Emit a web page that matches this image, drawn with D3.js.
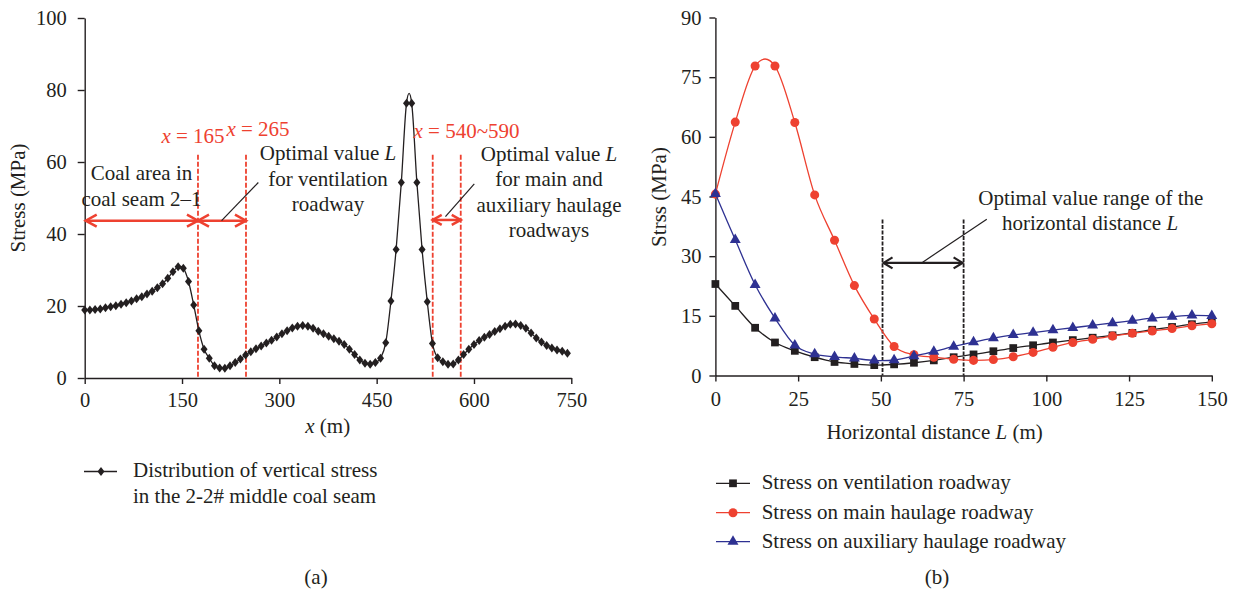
<!DOCTYPE html>
<html><head><meta charset="utf-8">
<script src="https://cdn.jsdelivr.net/npm/d3@7"></script>
<style>
html,body{margin:0;padding:0;background:#fff;}
svg{display:block;font-family:"Liberation Serif","Times New Roman",serif;}
</style></head><body>
<svg id="chart" width="1236" height="597"></svg>
<script>
// ---------- Panel (a) data ----------
const xPos = [0,8,16,24,32,40,48,56,64,72,80,88,96,104,112,120,128,136,144,152,160,168,176,184,192,200,208,216,224,232,240,248,256,264,272,280,288,296,304,312,320,328,336,344,352,360,368,376,384,392,400,408,416,424,432,440,448,456,464,472,480,488,496,504,512,520,528,536,544,552,560,568,576,584,592,600,608,616,624,632,640,648,656,664,672,680,688,696,704,712,720,728,736,744];
const verticalStress = [18.9,18.9,19.0,19.2,19.5,19.8,20.1,20.5,20.9,21.4,22.0,22.6,23.3,24.1,25.1,26.2,27.7,29.5,30.9,30.5,26.8,20.3,13.1,8.0,5.5,3.4,2.8,2.7,3.4,4.3,5.3,6.4,7.3,8.1,8.9,9.7,10.5,11.4,12.3,13.1,13.9,14.4,14.6,14.4,13.8,13.0,12.3,11.6,10.9,10.2,9.3,8.0,6.5,5.0,4.1,3.8,4.3,5.5,9.8,21.4,35.7,54.3,76.3,76.3,54.3,35.7,21.2,9.6,5.6,4.5,3.8,3.9,5.0,6.5,8.0,9.3,10.4,11.3,12.1,12.9,13.7,14.4,14.9,15.0,14.6,13.8,12.5,11.1,10.0,9.0,8.3,7.8,7.4,6.9];
const xTicksA = [0,150,300,450,600,750];
const yTicksA = [0,20,40,60,80,100];
const redLinesA = [174.6, 248.6, 536.4, 579.6];

// ---------- Panel (b) data ----------
const distL = [0,6,12,18,24,30,36,42,48,54,60,66,72,78,84,90,96,102,108,114,120,126,132,138,144,150];
const ventilation = [23.0,17.5,12.0,8.3,6.2,4.6,3.4,2.9,2.6,2.8,3.2,3.8,4.6,5.3,6.1,6.9,7.6,8.3,8.9,9.5,10.1,10.7,11.5,12.2,12.9,13.5];
const mainHaulage = [45.6,63.7,77.8,77.8,63.6,45.4,34.0,22.6,14.2,7.3,5.2,4.6,4.1,3.8,4.0,4.7,5.8,7.1,8.3,9.1,9.9,10.6,11.2,11.8,12.5,13.0];
const auxHaulage = [45.7,34.1,22.8,14.4,7.6,5.4,4.7,4.3,3.8,3.9,4.9,6.0,7.3,8.4,9.4,10.2,10.8,11.4,12.0,12.6,13.2,13.8,14.4,14.8,15.1,15.0];
const xTicksB = [0,25,50,75,100,125,150];
const yTicksB = [0,15,30,45,60,75,90];
const rangeB = [50.5, 75];

const INK = "#231f20", RED = "#ee4130", BLUE = "#2e3192";
const FONT = "'Liberation Serif','Times New Roman',serif";
const FS = 21;
const svg = d3.select("#chart");

const xA = d3.scaleLinear().domain([0,750]).range([84.7,571.3]);
const yA = d3.scaleLinear().domain([0,100]).range([378,18]);
const xB = d3.scaleLinear().domain([0,150]).range([715.4,1211.8]);
const yB = d3.scaleLinear().domain([0,90]).range([375.5,17.5]);

function styleAxis(g){
  g.select(".domain").attr("stroke",INK).attr("stroke-width",1.4);
  g.selectAll(".tick line").attr("stroke",INK).attr("stroke-width",1.4);
  g.selectAll(".tick text").attr("fill",INK).style("font-size","20.5px").style("font-family",FONT);
}
function txt(x,y,anchor,size,fill){
  return svg.append("text").attr("x",x).attr("y",y).attr("text-anchor",anchor)
    .style("font-size",size+"px").style("font-family",FONT).attr("fill",fill||INK);
}
function chevron(tx,ty,dir,L,h,color,sw){
  svg.append("path").attr("d",`M${tx-dir*L},${ty-h}L${tx},${ty}L${tx-dir*L},${ty+h}`)
    .attr("fill","none").attr("stroke",color).attr("stroke-width",sw).attr("stroke-linejoin","miter");
}
function dblArrow(x1,x2,y,color,sw,L,h){
  svg.append("line").attr("x1",x1).attr("x2",x2).attr("y1",y).attr("y2",y).attr("stroke",color).attr("stroke-width",sw);
  chevron(x1,y,-1,L,h,color,sw); chevron(x2,y,1,L,h,color,sw);
}

// ================= Panel (a) =================
svg.append("g").attr("transform",`translate(0,${yA(0)})`)
  .call(d3.axisBottom(xA).tickValues(xTicksA).tickSize(6).tickSizeOuter(0).tickPadding(8)).call(styleAxis);
svg.append("g").attr("transform",`translate(${xA(0)},0)`)
  .call(d3.axisLeft(yA).tickValues(yTicksA).tickSize(7).tickSizeOuter(0).tickPadding(11)).call(styleAxis);

redLinesA.forEach(v=>{
  svg.append("line").attr("x1",xA(v)).attr("x2",xA(v)).attr("y1",yA(62)).attr("y2",yA(0))
    .attr("stroke",RED).attr("stroke-width",1.8).attr("stroke-dasharray","5,2");
});
dblArrow(xA(0)+1,xA(redLinesA[0]),yA(43.7),RED,2.5,11,6);
dblArrow(xA(redLinesA[0]),xA(redLinesA[1]),yA(43.7),RED,2.5,11,6);
dblArrow(xA(redLinesA[2]),xA(redLinesA[3]),yA(43.9),RED,2.5,9,5);
svg.append("line").attr("x1",xA(211)).attr("y1",yA(43.7)).attr("x2",xA(267.6)).attr("y2",yA(54.3)).attr("stroke",INK).attr("stroke-width",1.2);
svg.append("line").attr("x1",xA(556)).attr("y1",yA(44.8)).attr("x2",xA(600.5)).attr("y2",yA(53.9)).attr("stroke",INK).attr("stroke-width",1.2);

const lineA = d3.line().x((d,i)=>xA(xPos[i])).y(d=>yA(d)).curve(d3.curveCardinal.tension(0));
svg.append("path").datum(verticalStress).attr("d",lineA).attr("fill","none").attr("stroke",INK).attr("stroke-width",1.3);
const DIAM = "M0,-4.5L3.5,0L0,4.5L-3.5,0Z";
svg.append("g").selectAll("path").data(verticalStress).join("path")
  .attr("d",DIAM)
  .attr("transform",(d,i)=>`translate(${xA(xPos[i])},${yA(d)})`).attr("fill",INK);

let t;
t = txt(193,143,"middle",FS,RED); t.append("tspan").style("font-style","italic").text("x"); t.append("tspan").text(" = 165");
t = txt(258,135.5,"middle",FS,RED); t.append("tspan").style("font-style","italic").text("x"); t.append("tspan").text(" = 265");
t = txt(466.5,138,"middle",FS,RED); t.append("tspan").style("font-style","italic").text("x"); t.append("tspan").text(" = 540~590");

txt(141.5,180,"middle",FS).text("Coal area in");
txt(141.5,206,"middle",FS).text("coal seam 2\u20131");
t = txt(328,160,"middle",FS); t.append("tspan").text("Optimal value "); t.append("tspan").style("font-style","italic").text("L");
txt(328,185.5,"middle",FS).text("for ventilation");
txt(328,211,"middle",FS).text("roadway");
t = txt(549,160.5,"middle",FS); t.append("tspan").text("Optimal value "); t.append("tspan").style("font-style","italic").text("L");
txt(549,186,"middle",FS).text("for main and");
txt(549,211.5,"middle",FS).text("auxiliary haulage");
txt(549,237,"middle",FS).text("roadways");

txt(0,0,"middle",FS).attr("transform","translate(25,198) rotate(-90)").text("Stress (MPa)");
t = txt(327.7,433,"middle",FS); t.append("tspan").style("font-style","italic").text("x"); t.append("tspan").text(" (m)");

svg.append("line").attr("x1",84).attr("x2",117).attr("y1",471.5).attr("y2",471.5).attr("stroke",INK).attr("stroke-width",1.3);
svg.append("path").attr("d",DIAM).attr("transform","translate(101,471.5)").attr("fill",INK);
txt(133,477,"start",FS).text("Distribution of vertical stress");
txt(133,503,"start",FS).text("in the 2-2# middle coal seam");
txt(316,584,"middle",FS).text("(a)");

// ================= Panel (b) =================
svg.append("g").attr("transform",`translate(0,${yB(0)})`)
  .call(d3.axisBottom(xB).tickValues(xTicksB).tickSize(6).tickSizeOuter(0).tickPadding(10)).call(styleAxis);
svg.append("g").attr("transform",`translate(${xB(0)},0)`)
  .call(d3.axisLeft(yB).tickValues(yTicksB).tickSize(6).tickSizeOuter(0).tickPadding(8)).call(styleAxis);

rangeB.forEach(v=>{
  svg.append("line").attr("x1",xB(v)).attr("x2",xB(v)).attr("y1",yB(39.2)).attr("y2",yB(0))
    .attr("stroke",INK).attr("stroke-width",1.8).attr("stroke-dasharray","4,1.5");
});
dblArrow(xB(rangeB[0])+1,xB(rangeB[1])-1,yB(28.3),INK,2.2,9,5.5);
svg.append("line").attr("x1",xB(62.3)).attr("y1",yB(28.3)).attr("x2",xB(82)).attr("y2",yB(39.3)).attr("stroke",INK).attr("stroke-width",1.2);

const series = [
  {vals: ventilation, color: INK, sym: d3.symbolSquare, size: 60, name: "Stress on ventilation roadway"},
  {vals: mainHaulage, color: RED, sym: d3.symbolCircle, size: 64, name: "Stress on main haulage roadway"},
  {vals: auxHaulage, color: BLUE, sym: d3.symbolTriangle, size: 52, name: "Stress on auxiliary haulage roadway"}
];
const lineB = d3.line().x((d,i)=>xB(distL[i])).y(d=>yB(d)).curve(d3.curveCardinal.tension(0));
series.forEach(s=>{
  svg.append("path").datum(s.vals).attr("d",lineB).attr("fill","none").attr("stroke",s.color).attr("stroke-width",1.3);
  svg.append("g").selectAll("path").data(s.vals).join("path")
    .attr("d",d3.symbol().type(s.sym).size(s.size))
    .attr("transform",(d,i)=>`translate(${xB(distL[i])},${yB(d)})`).attr("fill",s.color);
});

txt(1090.8,205,"middle",FS).text("Optimal value range of the");
t = txt(1090,229.5,"middle",FS); t.append("tspan").text("horizontal distance "); t.append("tspan").style("font-style","italic").text("L");

txt(0,0,"middle",FS).attr("transform","translate(666,197) rotate(-90)").text("Strss (MPa)");
t = txt(934.6,439,"middle",FS); t.append("tspan").text("Horizontal distance "); t.append("tspan").style("font-style","italic").text("L"); t.append("tspan").text(" (m)");

const legY = [483.3,512.7,541.7];
series.forEach((s,i)=>{
  svg.append("line").attr("x1",716).attr("x2",750).attr("y1",legY[i]).attr("y2",legY[i]).attr("stroke",s.color).attr("stroke-width",1.3);
  svg.append("path").attr("d",d3.symbol().type(s.sym).size(s.size)).attr("transform",`translate(733,${legY[i]})`).attr("fill",s.color);
  txt(761.7,legY[i]+6,"start",FS).text(s.name);
});
txt(937,584,"middle",FS).text("(b)");
</script>
</body></html>
